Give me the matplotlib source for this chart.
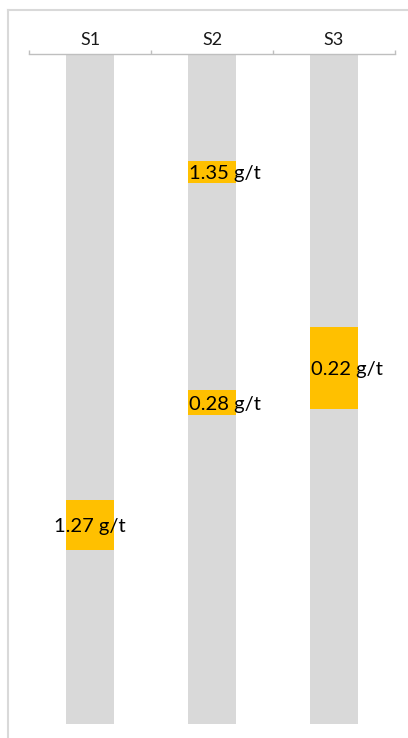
import matplotlib
matplotlib.use("Agg")
import matplotlib.pyplot as plt
from matplotlib.lines import Line2D

# ---- data ----
holes = ["S1", "S2", "S3"]
hole_depth = [100, 100, 100]
interval_hole = ["S1", "S2", "S2", "S3"]
interval_from = [66.6, 16.1, 50.2, 40.8]
interval_to = [74.1, 19.4, 54.0, 53.0]
interval_grade = [1.27, 1.35, 0.28, 0.22]

# ---- layout / style ----
W, H = 408, 738
GRAY = "#d9d9d9"
ORANGE = "#ffc000"
label_dx = {"S1": 0.0, "S2": 0.107, "S3": 0.107}
plt.rcParams["font.family"] = ["Lato", "DejaVu Sans"]

fig = plt.figure(figsize=(W / 100, H / 100), dpi=100)
ax = fig.add_axes([29 / W, 1 - 723.5 / H, (395 - 29) / W, (723.5 - 53.5) / H])

xpos = list(range(len(holes)))
ax.bar(xpos, hole_depth, width=0.40, bottom=0, color=GRAY, zorder=1)

for h, f, t, g in zip(interval_hole, interval_from, interval_to, interval_grade):
    i = holes.index(h)
    ax.bar(i, t - f, width=0.40, bottom=f, color=ORANGE, zorder=2)
    ax.text(i + label_dx[h], (f + t) / 2, f"{g:.2f} g/t", ha="center",
            va="center_baseline", fontsize=14.5, color="black", zorder=3)

ax.set_xlim(-0.5, len(holes) - 0.5)
ax.set_ylim(100, 0)
ax.xaxis.tick_top()
ax.set_xticks(xpos)
ax.set_xticklabels(holes, fontsize=13)
ax.set_xticks([-0.5, 0.5, 1.5, 2.5], minor=True)
ax.tick_params(axis="x", which="major", length=0, pad=4, colors="#1a1a1a")
ax.tick_params(axis="x", which="minor", length=3, width=1, color="#bfbfbf", direction="out")
ax.set_yticks([])
for s in ["left", "right", "bottom"]:
    ax.spines[s].set_visible(False)
ax.spines["top"].set_color("#bfbfbf")
ax.spines["top"].set_linewidth(1)

# chart-area border (partially outside the image)
fig.add_artist(Line2D([8 / W, 1.1], [1 - 10 / H, 1 - 10 / H], transform=fig.transFigure,
                      color=GRAY, lw=1.5))
fig.add_artist(Line2D([8 / W, 8 / W], [1 - 10 / H, -0.1], transform=fig.transFigure,
                      color=GRAY, lw=1.5))

fig.savefig("out.png", dpi=100)
